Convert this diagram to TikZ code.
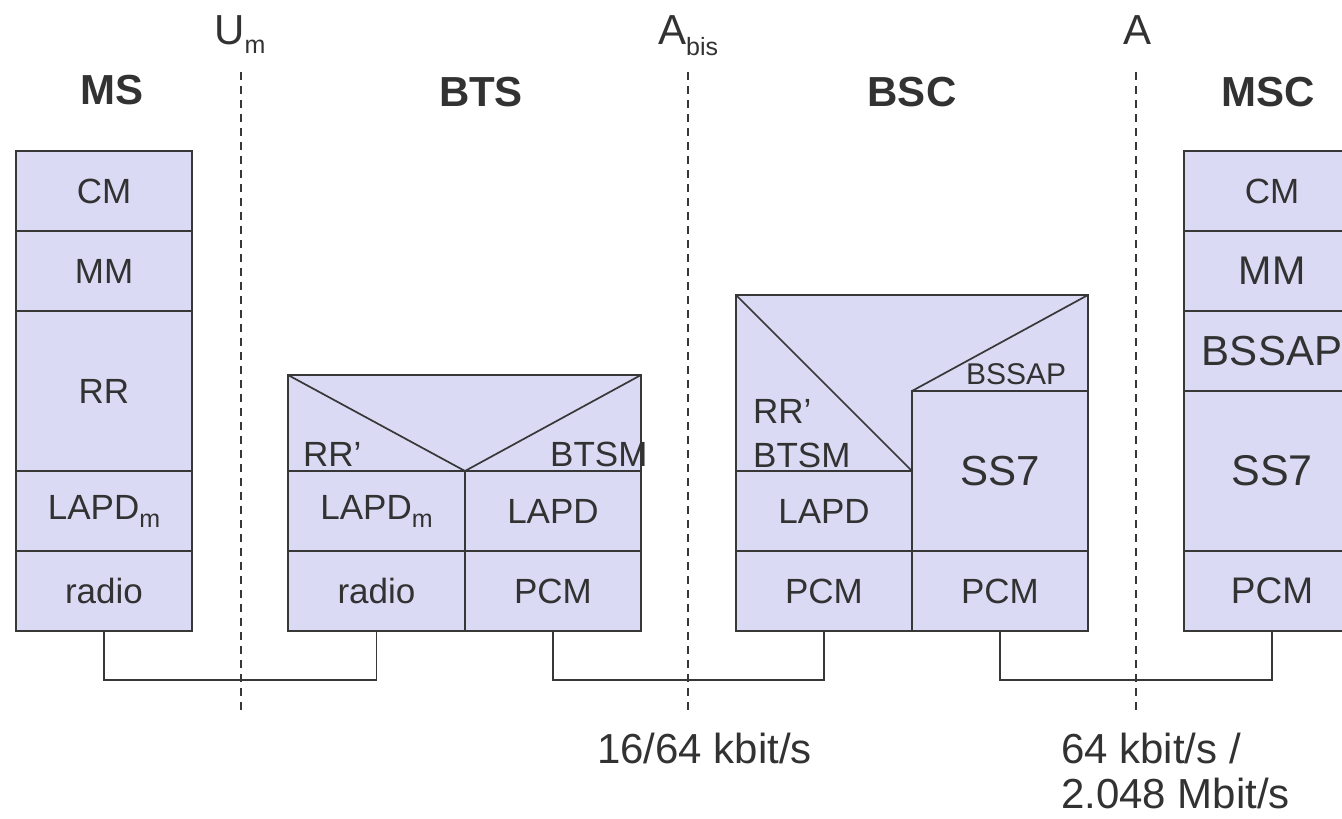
\documentclass[tikz,border=0pt]{standalone}
\usepackage{fontspec}
\setmainfont{Liberation Sans}
\begin{document}
\begin{tikzpicture}[x=1pt,y=-1pt]
\definecolor{fillc}{RGB}{218,218,245}
\definecolor{linec}{RGB}{55,55,55}
\definecolor{txt}{RGB}{50,50,50}
\tikzset{
  cell/.style={draw=linec, line width=1.7pt, fill=fillc, inner sep=0pt, text=txt,
    font=\fontsize{35}{40}\selectfont, minimum width=176pt, minimum height=80pt},
  tall/.style={minimum height=160pt},
  region/.style={draw=linec, line width=1.7pt, fill=fillc, line join=miter},
  edge/.style={draw=linec, line width=1.7pt},
  conn/.style={draw=linec, line width=1.5pt},
  iface/.style={draw=linec, line width=1.5pt, dash pattern=on 8pt off 6pt},
  head/.style={text=txt, font=\fontsize{42}{46}\selectfont\bfseries, anchor=base, inner sep=0pt},
  lbl/.style={text=txt, font=\fontsize{42}{46}\selectfont, anchor=base west, inner sep=0pt},
  small/.style={text=txt, font=\fontsize{35}{40}\selectfont, anchor=base west, inner sep=0pt}
}
\newcommand{\subm}[2]{\raisebox{-#1pt}{\fontsize{25}{25}\selectfont #2}}
\clip (0,0) rectangle (1342,819);
\useasboundingbox (0,0) rectangle (1342,819);

% interface lines
\draw[iface] (241,72) -- (241,712);
\draw[iface] (688,72) -- (688,712);
\draw[iface] (1136,72) -- (1136,712);
\node[lbl] (um) at (214,45) {U\subm{9}{m}};
\node[lbl] (abis) at (658,45) {A\subm{10}{bis}};
\node[lbl] (aif) at (1123,45) {A};

% headers
\node[head] (hms) at (112,104) {MS};
\node[head] (hbts) at (481,106) {BTS};
\node[head] (hbsc) at (912,106) {BSC};
\node[head] (hmsc) at (1268,106) {MSC};

% MS stack
\node[cell] (mscm) at (104,191) {CM};
\node[cell] (msmm) at (104,271) {MM};
\node[cell,tall] (msrr) at (104,391) {RR};
\node[cell] (mslapd) at (104,511) {LAPD\subm{8}{m}};
\node[cell] (msradio) at (104,591) {radio};

% BTS
\draw[region] (288,375) rectangle (641,471);
\draw[edge] (288,375) -- (465,471) -- (641,375);
\node[small] (btsrr) at (303,466) {RR’};
\node[small] (btsbtsm) at (550,466) {BTSM};
\node[cell,minimum width=177pt] (btslapdm) at (376.5,511) {LAPD\subm{8}{m}};
\node[cell] (btslapd) at (553,511) {LAPD};
\node[cell,minimum width=177pt] (btsradio) at (376.5,591) {radio};
\node[cell] (btspcm) at (553,591) {PCM};

% BSC
\draw[region] (736,295) -- (1088,295) -- (1088,391) -- (912,391) -- (912,471) -- (736,471) -- cycle;
\draw[edge] (736,295) -- (912,471);
\draw[edge] (912,391) -- (1088,295);
\node[small] (bscrr) at (753,423) {RR’};
\node[small] (bscbtsm) at (753,467) {BTSM};
\node[small,font=\fontsize{30}{34}\selectfont] (bscbssap) at (966,384) {BSSAP};
\node[cell] (bsclapd) at (824,511) {LAPD};
\node[cell,tall,font=\fontsize{42}{46}\selectfont] (bscss7) at (1000,471) {SS7};
\node[cell] (bscpcma) at (824,591) {PCM};
\node[cell] (bscpcmb) at (1000,591) {PCM};

% MSC stack
\node[cell] (msccm) at (1272,191) {CM};
\node[cell,font=\fontsize{40}{44}\selectfont] (mscmm) at (1272,271) {MM};
\node[cell,font=\fontsize{42}{46}\selectfont] (mscbssap) at (1272,351) {BSSAP};
\node[cell,tall,font=\fontsize{43}{46}\selectfont] (mscss7) at (1272,471) {SS7};
\node[cell,font=\fontsize{37}{40}\selectfont] (mscpcm) at (1272,591) {PCM};

% connectors
\draw[conn] (msradio.south) -- ++(0,48) -| (btsradio.south);
\draw[conn] (btspcm.south) -- ++(0,48) -| (bscpcma.south);
\draw[conn] (bscpcmb.south) -- ++(0,48) -| (mscpcm.south);

% rates
\node[lbl] (r1) at (597,763) {16/64 kbit/s};
\node[lbl] (r2) at (1061,763) {64 kbit/s /};
\node[lbl] (r3) at (1061,808) {2.048 Mbit/s};
\end{tikzpicture}
\end{document}
